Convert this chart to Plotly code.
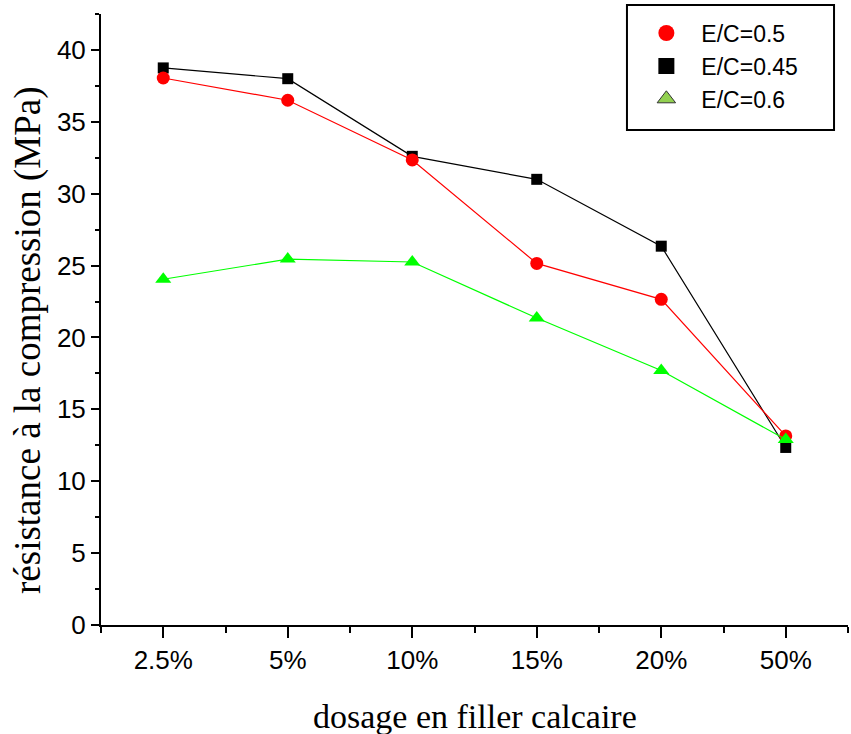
import plotly.graph_objects as go

categories = ["2.5%", "5%", "10%", "15%", "20%", "50%"]
ec_045 = [38.75, 38.0, 32.6, 31.0, 26.35, 12.35]
ec_05 = [38.05, 36.5, 32.35, 25.15, 22.65, 13.15]
ec_06 = [24.05, 25.45, 25.25, 21.35, 17.7, 12.9]

x_title = "dosage en filler calcaire"
y_title = "résistance à la compression (MPa)"

x_pos = list(range(len(categories)))

fig = go.Figure()

# data traces (drawing order: black, red, green)
fig.add_trace(go.Scatter(x=x_pos, y=ec_045, mode="lines+markers", showlegend=False,
                         line=dict(color="#000000", width=1.2),
                         marker=dict(symbol="square", size=11, color="#000000")))
fig.add_trace(go.Scatter(x=x_pos, y=ec_05, mode="lines+markers", showlegend=False,
                         line=dict(color="#FF0000", width=1.2),
                         marker=dict(symbol="circle", size=13, color="#FF0000")))
fig.add_trace(go.Scatter(x=x_pos, y=ec_06, mode="lines+markers", showlegend=False,
                         line=dict(color="#00FF00", width=1.2),
                         marker=dict(symbol="triangle-up", size=14, color="#00FF00")))

# legend entries
fig.add_trace(go.Scatter(x=[None], y=[None], mode="markers", name="E/C=0.5",
                         marker=dict(symbol="circle", size=16, color="#FF0000")))
fig.add_trace(go.Scatter(x=[None], y=[None], mode="markers", name="E/C=0.45",
                         marker=dict(symbol="square", size=16, color="#000000")))
fig.add_trace(go.Scatter(x=[None], y=[None], mode="markers", name="E/C=0.6",
                         marker=dict(symbol="triangle-up", size=16, color="#92D050",
                                     line=dict(color="#333333", width=1))))

fig.update_layout(
    width=851, height=734,
    margin=dict(l=101, r=3, t=14, b=109),
    paper_bgcolor="white", plot_bgcolor="white",
    showlegend=True,
    legend=dict(x=0.71, y=1.004, xanchor="left", yanchor="top",
                bgcolor="rgba(0,0,0,0)", borderwidth=0,
                font=dict(family="Liberation Sans", size=23, color="black"),
                itemwidth=60),
    shapes=[dict(type="rect", xref="paper", yref="paper",
                 x0=0.7041, x1=0.9813, y0=0.810, y1=1.0147,
                 line=dict(color="black", width=2), fillcolor="rgba(0,0,0,0)")],
    annotations=[
        dict(text=y_title, xref="paper", yref="paper", x=-0.0977, y=0.4665,
             xanchor="center", yanchor="middle", textangle=-90, showarrow=False,
             font=dict(family="Liberation Serif", size=37, color="black")),
        dict(text=x_title, xref="paper", yref="paper", x=0.5, y=-0.149,
             xanchor="center", yanchor="middle", showarrow=False,
             font=dict(family="Liberation Serif", size=34, color="black")),
    ],
)

fig.update_xaxes(
    range=[-0.5, 5.5], tickmode="array", tickvals=x_pos, ticktext=categories,
    showline=True, linecolor="black", linewidth=2, showgrid=False, zeroline=False,
    ticks="outside", ticklen=11, tickwidth=2, tickcolor="black",
    tickfont=dict(family="Liberation Sans", size=26, color="black"),
    minor=dict(tickmode="linear", tick0=0.5, dtick=1, ticks="outside", ticklen=6,
               tickwidth=2, tickcolor="black", showgrid=False),
)
fig.update_yaxes(
    range=[0, 42.5], tickmode="linear", tick0=0, dtick=5,
    showline=True, linecolor="black", linewidth=2, showgrid=False, zeroline=False,
    ticks="outside", ticklen=8, tickwidth=2, tickcolor="black",
    tickfont=dict(family="Liberation Sans", size=26, color="black"),
    minor=dict(tickmode="linear", tick0=0, dtick=2.5, ticks="outside", ticklen=4,
               tickwidth=2, tickcolor="black", showgrid=False),
)

fig.write_html("out.html")
